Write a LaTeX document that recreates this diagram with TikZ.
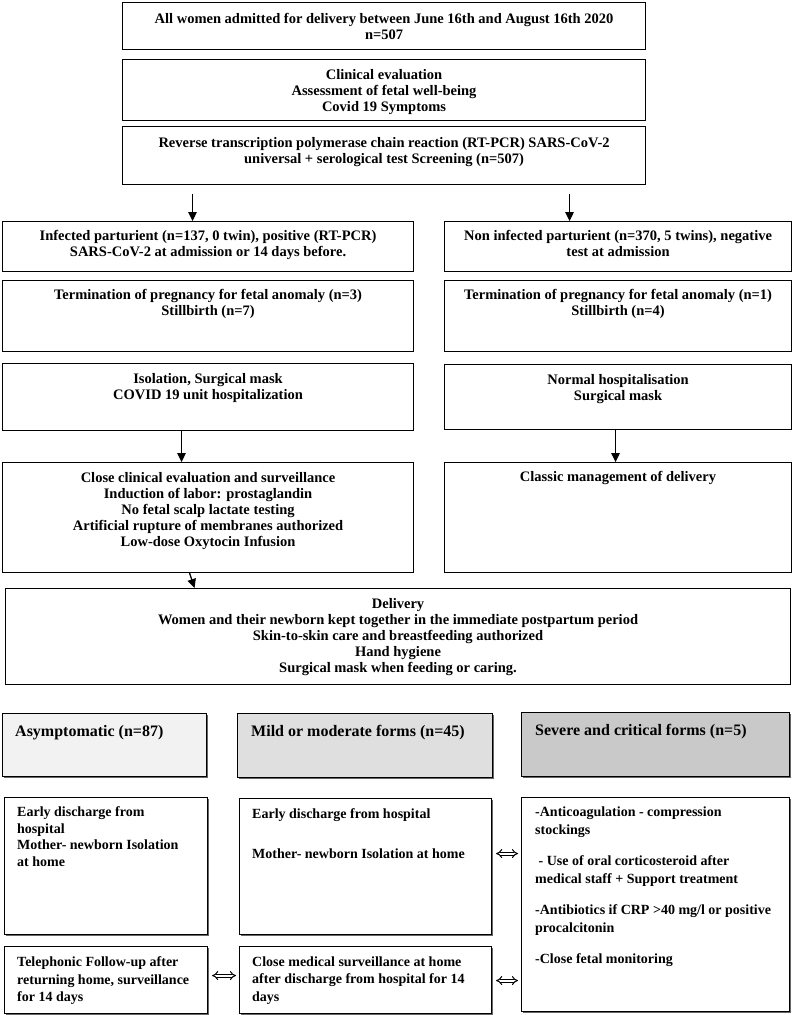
\documentclass[tikz,border=0pt]{standalone}
\usepackage{fontspec}
\setmainfont{Liberation Serif}
\usetikzlibrary{positioning,arrows.meta,shadows}
\definecolor{asymgray}{HTML}{F2F2F2}
\definecolor{mildgray}{HTML}{DFDFDF}
\definecolor{sevgray}{HTML}{C9C9C9}

\begin{document}
\begin{tikzpicture}[x=1pt,y=-1pt,
		box/.style={draw, line width=1.1pt, anchor=north west, inner sep=0pt},
		sbox/.style={box, fill=white, drop shadow={shadow xshift=1pt,shadow yshift=-1pt,fill=black!60,opacity=1}},
		ttop/.style={font=\fontsize{14.5}{16}\selectfont\bfseries, align=center, inner sep=0pt},
		tbot/.style={font=\fontsize{14}{17.5}\selectfont\bfseries, align=left, inner sep=0pt},
		thead/.style={font=\fontsize{16}{18}\selectfont\bfseries, inner sep=0pt},
		arr/.style={-{Triangle[length=9pt,width=8.5pt]}, line width=1.3pt},
		dbl/.style={{Implies}-{Implies}, double, double distance=2pt, line width=1pt}]
	\useasboundingbox (0,0) rectangle (793,1015);

	% Inklusjon
	\node[box, minimum width=523pt, minimum height=47pt] (all) at (122,2) {};
	\node[ttop] at (all) {All women admitted for delivery between June 16th and August 16th 2020\\n=507};
	\node[box, minimum width=523pt, minimum height=61pt] (clin) at (122,59) {};
	\node[ttop, below=10.5pt of clin.north] {Clinical evaluation\\Assessment of fetal well-being\\Covid 19 Symptoms};
	\node[box, minimum width=523pt, minimum height=58pt] (rtpcr) at (122,126) {};
	\node[ttop, below=11.5pt of rtpcr.north] {Reverse transcription polymerase chain reaction (RT-PCR) SARS-CoV-2\\universal + serological test Screening (n=507)};

	% Infiserte
	\node[box, minimum width=411pt, minimum height=50pt] (inf) at (2,221) {};
	\node[ttop, below=9.5pt of inf.north] {Infected parturient (n=137, 0 twin), positive (RT-PCR)\\SARS-CoV-2 at admission or 14 days before.};
	\node[box, minimum width=411pt, minimum height=71pt] (termL) at (2,280) {};
	\node[ttop, below=9.5pt of termL.north] {Termination of pregnancy for fetal anomaly (n=3)\\Stillbirth (n=7)};
	\node[box, minimum width=411pt, minimum height=67pt] (isoL) at (2,363) {};
	\node[ttop, below=10.5pt of isoL.north] {Isolation, Surgical mask\\COVID 19 unit hospitalization};
	\node[box, minimum width=411pt, minimum height=110pt] (closeL) at (2,462) {};
	\node[ttop, below=10.5pt of closeL.north] {Close clinical evaluation and surveillance\\Induction of labor: prostaglandin\\No fetal scalp lactate testing\\Artificial rupture of membranes authorized\\Low-dose Oxytocin Infusion};

	% Ikke-infiserte
	\node[box, minimum width=347pt, minimum height=50pt] (noninf) at (444,221) {};
	\node[ttop, below=9.5pt of noninf.north] {Non infected parturient (n=370, 5 twins), negative\\test at admission};
	\node[box, minimum width=347pt, minimum height=71pt] (termR) at (444,280) {};
	\node[ttop, below=9.5pt of termR.north] {Termination of pregnancy for fetal anomaly (n=1)\\Stillbirth (n=4)};
	\node[box, minimum width=347pt, minimum height=65pt] (isoR) at (444,364) {};
	\node[ttop, below=10.5pt of isoR.north] {Normal hospitalisation\\Surgical mask};
	\node[box, minimum width=347pt, minimum height=110pt] (classic) at (444,462) {};
	\node[ttop, below=9.5pt of classic.north] {Classic management of delivery};

	% Fodsel
	\node[box, minimum width=785pt, minimum height=96pt] (deliv) at (5,588) {};
	\node[ttop, below=10.5pt of deliv.north] {Delivery\\Women and their newborn kept together in the immediate postpartum period\\Skin-to-skin care and breastfeeding authorized\\Hand hygiene\\Surgical mask when feeding or caring.};

	% Piler
	\draw[arr] ([xshift=-191.5pt,yshift=-9pt]rtpcr.south) -- ([xshift=-15.5pt]inf.north);
	\draw[arr] ([xshift=185.5pt,yshift=-9pt]rtpcr.south) -- ([xshift=-48.5pt]noninf.north);
	\draw[arr] ([xshift=-26.5pt]isoL.south) -- ([xshift=-26.5pt]closeL.north);
	\draw[arr] ([xshift=-2.5pt]isoR.south) -- ([xshift=-2.5pt]classic.north);
	\draw[arr] ([xshift=-18.5pt]closeL.south) -- ([xshift=-203.5pt]deliv.north);

	% Alvorlighetsgrad
	\node[sbox, fill=asymgray, minimum width=204pt, minimum height=63pt] (hAsym) at (2,713) {};
	\node[thead, below right=12pt and 13pt of hAsym.north west] {Asymptomatic (n=87)};
	\node[sbox, fill=mildgray, minimum width=255pt, minimum height=64pt] (hMild) at (237,713) {};
	\node[thead, below right=12pt and 14pt of hMild.north west] {Mild or moderate forms (n=45)};
	\node[sbox, fill=sevgray, minimum width=268pt, minimum height=64pt] (hSev) at (521,712) {};
	\node[thead, below right=12pt and 14pt of hSev.north west] {Severe and critical forms (n=5)};

	% Oppfolging
	\node[sbox, minimum width=203pt, minimum height=137pt] (early) at (4,797) {};
	\node[tbot, font=\fontsize{14}{16.5}\selectfont\bfseries, below right=9.5pt and 13pt of early.north west] {Early discharge from\\hospital\\Mother- newborn Isolation\\at home};
	\node[sbox, minimum width=252pt, minimum height=136pt] (earlyM) at (239,798) {};
	\node[tbot, below right=10.5pt and 13pt of earlyM.north west] {Early discharge from hospital\\[22.5pt]Mother- newborn Isolation at home};
	\node[sbox, minimum width=268pt, minimum height=214pt] (sevTx) at (521,797) {};
	\node[tbot, font=\fontsize{14}{18}\selectfont\bfseries, below right=9.5pt and 14pt of sevTx.north west] {-Anticoagulation - compression\\stockings\\[13pt]\hspace{3.5pt}- Use of oral corticosteroid after\\medical staff + Support treatment\\[13pt]-Antibiotics if CRP >40 mg/l or positive\\procalcitonin\\[13pt]-Close fetal monitoring};
	\node[sbox, minimum width=203pt, minimum height=67pt] (tele) at (4,946) {};
	\node[tbot, below right=10.5pt and 13pt of tele.north west] {Telephonic Follow-up after\\returning home, surveillance\\for 14 days};
	\node[sbox, minimum width=252pt, minimum height=67pt] (closeM) at (239,946) {};
	\node[tbot, below right=10.5pt and 13pt of closeM.north west] {Close medical surveillance at home\\after discharge from hospital for 14\\days};

	% Dobbeltpiler
	\draw[dbl] ([xshift=4pt,yshift=4.5pt]tele.east) -- ([xshift=-3pt,yshift=4.5pt]closeM.west);
	\draw[dbl] ([xshift=4pt,yshift=13pt]earlyM.east) -- ([xshift=-3pt,yshift=13pt]earlyM.east -| sevTx.west);
	\draw[dbl] ([xshift=4pt,yshift=-0.5pt]closeM.east) -- ([xshift=-3pt,yshift=-0.5pt]closeM.east -| sevTx.west);
\end{tikzpicture}
\end{document}
